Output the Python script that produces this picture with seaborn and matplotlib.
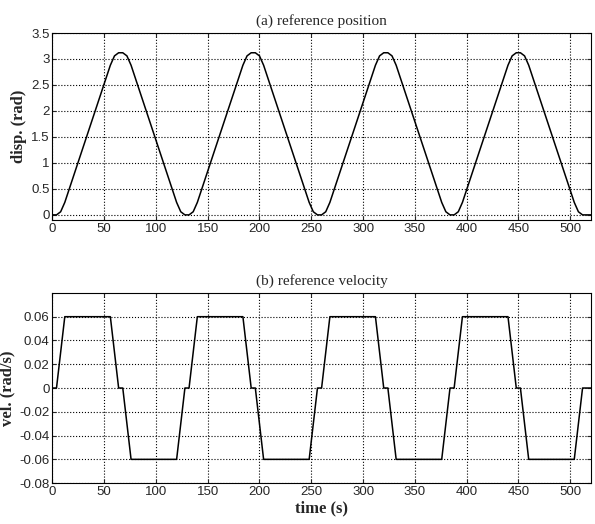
import numpy as np
import pandas as pd
import seaborn as sns
import matplotlib.pyplot as plt

# reference velocity, breakpoints (s, rad/s)
vel_t = [0, 4, 12, 56, 64, 68, 76, 120, 128, 132, 140, 184, 192, 196, 204, 248,
         256, 260, 268, 312, 320, 324, 332, 376, 384, 388, 396, 440, 448, 452,
         460, 504, 512, 520]
vel_v = [0, 0, 0.06, 0.06, 0, 0, -0.06, -0.06, 0, 0, 0.06, 0.06, 0, 0, -0.06, -0.06,
         0, 0, 0.06, 0.06, 0, 0, -0.06, -0.06, 0, 0, 0.06, 0.06, 0, 0,
         -0.06, -0.06, 0, 0]

# reference position, points (s, rad)
pos_t = [0, 4, 8, 12, 56, 60, 64, 68, 72, 76, 120, 124,
         128, 132, 136, 140, 184, 188, 192, 196, 200, 204, 248, 252,
         256, 260, 264, 268, 312, 316, 320, 324, 328, 332, 376, 380,
         384, 388, 392, 396, 440, 444, 448, 452, 456, 460, 504, 508,
         512, 520]
pos_v = [0, 0, 0.06, 0.24, 2.88, 3.06, 3.12, 3.12, 3.06, 2.88, 0.24, 0.06,
         0, 0, 0.06, 0.24, 2.88, 3.06, 3.12, 3.12, 3.06, 2.88, 0.24, 0.06,
         0, 0, 0.06, 0.24, 2.88, 3.06, 3.12, 3.12, 3.06, 2.88, 0.24, 0.06,
         0, 0, 0.06, 0.24, 2.88, 3.06, 3.12, 3.12, 3.06, 2.88, 0.24, 0.06,
         0, 0]

df_pos = pd.DataFrame({"t": pos_t, "disp": pos_v})
df_vel = pd.DataFrame({"t": vel_t, "vel": vel_v})

sns.set_style("ticks")
plt.rcParams["font.family"] = ["Liberation Sans", "DejaVu Sans"]
plt.rcParams["xtick.direction"] = "in"
plt.rcParams["ytick.direction"] = "in"

fig = plt.figure(figsize=(5.95, 5.24), dpi=100)
ax1 = fig.add_axes([0.088, 0.580, 0.905, 0.357])
ax2 = fig.add_axes([0.088, 0.078, 0.905, 0.363])

serif = ["Liberation Serif", "DejaVu Serif"]

sns.lineplot(data=df_pos, x="t", y="disp", ax=ax1, color="black", lw=1.1)
ax1.set_xlim(0, 520)
ax1.set_ylim(-0.1, 3.5)
ax1.set_yticks(np.arange(0, 3.51, 0.5))
ax1.set_yticklabels(["0", "0.5", "1", "1.5", "2", "2.5", "3", "3.5"])
ax1.set_xticks(range(0, 501, 50))
ax1.set_xlabel("")
ax1.set_ylabel("disp. (rad)", family=serif, fontweight="bold", fontsize=12, labelpad=3)
ax1.set_title("(a) reference position", family=serif, fontsize=11, pad=6)

sns.lineplot(data=df_vel, x="t", y="vel", ax=ax2, color="black", lw=1.1)
ax2.set_xlim(0, 520)
ax2.set_ylim(-0.08, 0.08)
ax2.set_yticks([-0.08, -0.06, -0.04, -0.02, 0, 0.02, 0.04, 0.06])
ax2.set_yticklabels(["-0.08", "-0.06", "-0.04", "-0.02", "0", "0.02", "0.04", "0.06"])
ax2.set_xticks(range(0, 501, 50))
ax2.set_xlabel("time (s)", family=serif, fontweight="bold", fontsize=12, labelpad=2)
ax2.set_ylabel("vel. (rad/s)", family=serif, fontweight="bold", fontsize=12, labelpad=3)
ax2.set_title("(b) reference velocity", family=serif, fontsize=11, pad=6)

for ax in (ax1, ax2):
    ax.grid(True, color="black", linestyle=":", linewidth=0.8)
    ax.tick_params(labelsize=9.5, length=3, top=True, right=True, pad=2)
    for s in ax.spines.values():
        s.set_visible(True)
        s.set_color("black")
        s.set_linewidth(0.8)

fig.savefig("out.png", dpi=100)
